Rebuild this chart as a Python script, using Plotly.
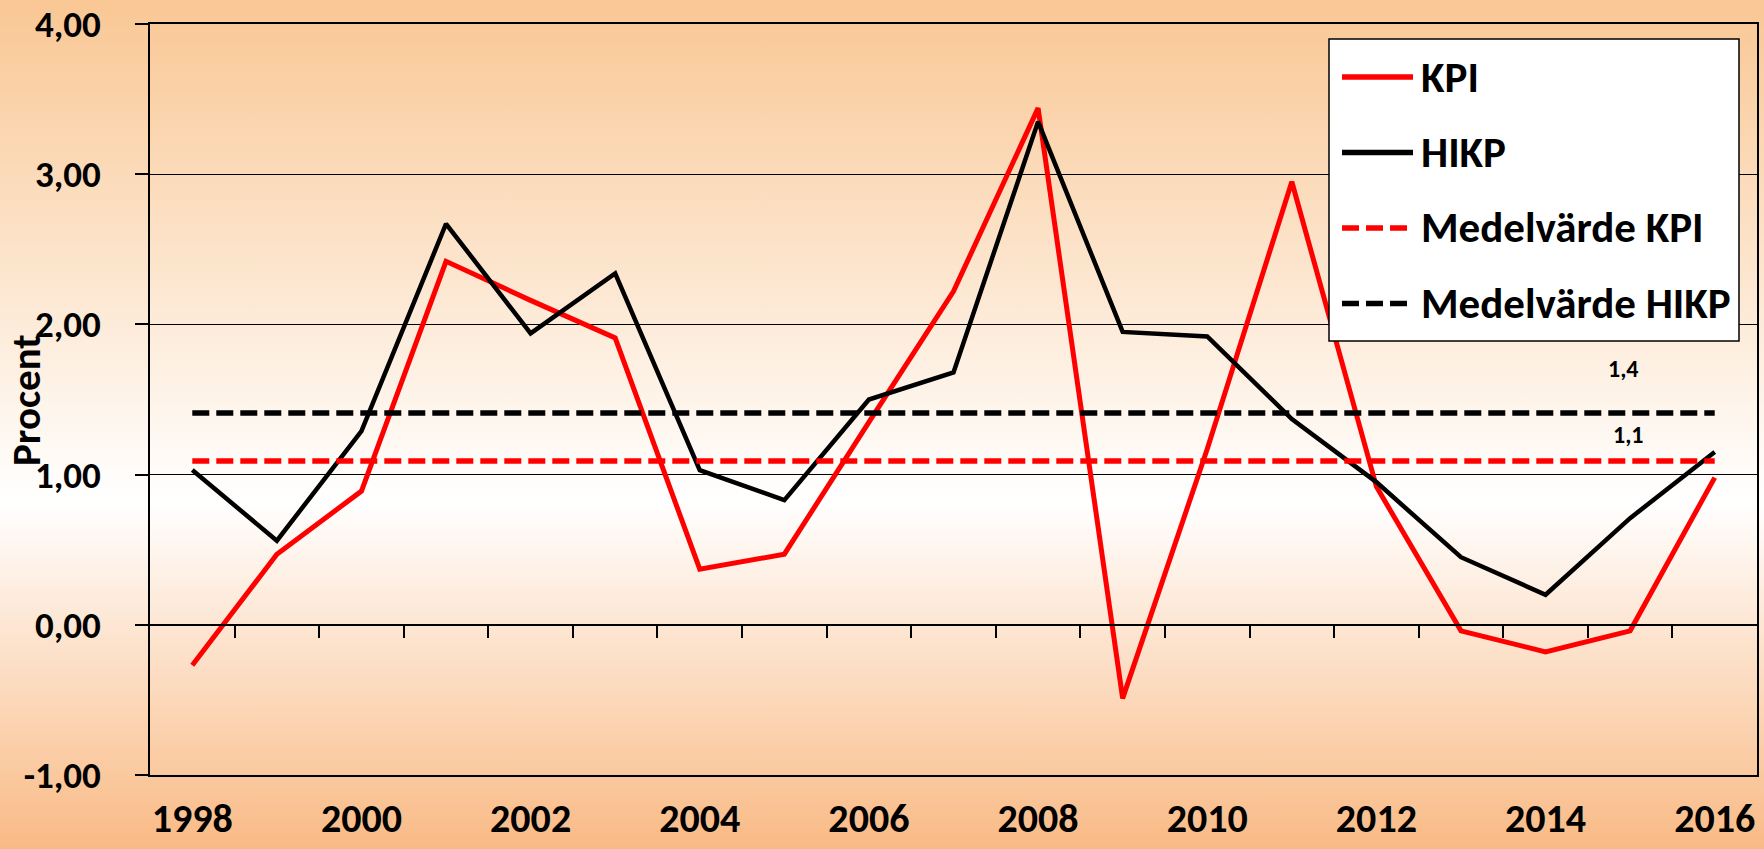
import base64
import plotly.graph_objects as go

years = list(range(1998, 2017))
kpi = [-0.27, 0.47, 0.89, 2.42, 2.16, 1.91, 0.37, 0.47, 1.35, 2.22,
       3.44, -0.49, 1.17, 2.95, 0.92, -0.04, -0.18, -0.04, 0.98]
hikp = [1.03, 0.56, 1.29, 2.67, 1.94, 2.34, 1.03, 0.83, 1.50, 1.68,
        3.35, 1.95, 1.92, 1.37, 0.95, 0.45, 0.20, 0.71, 1.15]
kpi_mean = 1.09
hikp_mean = 1.41

y_ticks = [-1, 0, 1, 2, 3, 4]
y_tick_labels = ["-1,00", "0,00", "1,00", "2,00", "3,00", "4,00"]
x_tick_years = [1998, 2000, 2002, 2004, 2006, 2008, 2010, 2012, 2014, 2016]

legend_names = ["KPI", "HIKP", "Medelvärde KPI", "Medelvärde HIKP"]
legend_colors = ["#FF0000", "#000000", "#FF0000", "#000000"]
legend_dash = ["solid", "solid", "17px,7px", "17px,7px"]

FONT = "Calibri, Carlito, Lato, sans-serif"
W, H = 1764, 849
L, R, T, B = 150, 7, 24, 74
PW, PH = W - L - R, H - T - B


def px_x(px):
    return (px - L) / PW


def px_y(py):
    return (H - B - py) / PH


def comma(v):
    return f"{v:.1f}".replace(".", ",")


fig = go.Figure()
fig.add_trace(go.Scatter(x=years, y=kpi, mode="lines", name="KPI",
                         line=dict(color="#FF0000", width=5)))
fig.add_trace(go.Scatter(x=years, y=hikp, mode="lines", name="HIKP",
                         line=dict(color="#000000", width=4.5)))
fig.add_trace(go.Scatter(x=years, y=[kpi_mean] * len(years), mode="lines",
                         name="Medelvärde KPI", xaxis="x2",
                         line=dict(color="#FF0000", width=5.5, dash="17px,7px")))
fig.add_trace(go.Scatter(x=years, y=[hikp_mean] * len(years), mode="lines",
                         name="Medelvärde HIKP", xaxis="x2",
                         line=dict(color="#000000", width=5.5, dash="17px,7px")))

# gradient background (orange -> white -> orange)
svg = ("<svg xmlns='http://www.w3.org/2000/svg' width='100' height='100' preserveAspectRatio='none'>"
       "<defs><linearGradient id='g' x1='0' y1='0' x2='0' y2='1'>"
       "<stop offset='0' stop-color='#F9C794'/>"
       "<stop offset='0.59' stop-color='#FFFFFF'/>"
       "<stop offset='1' stop-color='#F9BA85'/>"
       "</linearGradient></defs>"
       "<rect width='100' height='100' fill='url(#g)'/></svg>")
src = "data:image/svg+xml;base64," + base64.b64encode(svg.encode()).decode()
fig.add_layout_image(dict(source=src, xref="paper", yref="paper",
                          x=px_x(0), y=px_y(0), sizex=W / PW, sizey=H / PH,
                          xanchor="left", yanchor="top", sizing="stretch",
                          layer="below"))

# legend drawn by hand to get Excel-like long symbols
shapes = [dict(type="rect", xref="paper", yref="paper",
               x0=px_x(1329), x1=px_x(1739), y0=px_y(341), y1=px_y(39),
               fillcolor="white", line=dict(color="black", width=1.5))]
annotations = []
for i, name in enumerate(legend_names):
    ry = 77 + i * 75.5
    shapes.append(dict(type="line", xref="paper", yref="paper",
                       x0=px_x(1342), x1=px_x(1413), y0=px_y(ry), y1=px_y(ry),
                       line=dict(color=legend_colors[i], width=5.5, dash=legend_dash[i])))
    annotations.append(dict(xref="paper", yref="paper", x=px_x(1419), y=px_y(ry),
                            text=name, showarrow=False, xanchor="left", yanchor="middle",
                            font=dict(family=FONT, size=43, color="black", weight="bold")))

# data labels for the mean lines
annotations.append(dict(xref="x", yref="y", x=2015, y=hikp_mean, text=comma(hikp_mean),
                        showarrow=False, xshift=-7, yshift=45,
                        font=dict(family=FONT, size=24, color="black", weight="bold")))
annotations.append(dict(xref="x", yref="y", x=2015, y=kpi_mean, text=comma(kpi_mean),
                        showarrow=False, xshift=-2, yshift=27,
                        font=dict(family=FONT, size=24, color="black", weight="bold")))

# y axis title
annotations.append(dict(xref="paper", yref="paper", x=px_x(26), y=px_y(400),
                        text="Procent", showarrow=False, textangle=-90,
                        xanchor="center", yanchor="middle",
                        font=dict(family=FONT, size=41, color="black", weight="bold")))

fig.update_layout(
    width=W, height=H,
    margin=dict(l=L, r=R, t=T, b=B, autoexpand=False),
    paper_bgcolor="white",
    plot_bgcolor="rgba(0,0,0,0)",
    showlegend=False,
    shapes=shapes,
    annotations=annotations,
    xaxis=dict(range=[1997.5, 2016.5], showgrid=False, zeroline=False,
               showline=True, linecolor="black", linewidth=1.5, mirror=True,
               ticks="", tickvals=x_tick_years, ticktext=[str(y) for y in x_tick_years],
               ticklabelstandoff=7, ticklabeloverflow="allow",
               tickfont=dict(family=FONT, size=40, color="black", weight="bold")),
    xaxis2=dict(range=[1997.5, 2016.5], overlaying="x", anchor="free",
                position=px_y(625), side="bottom", showgrid=False, zeroline=False,
                showline=True, linecolor="black", linewidth=1.5,
                ticks="outside", ticklen=12, tickwidth=1.5, tickcolor="black",
                tickvals=[y + 0.5 for y in years[:-1]], showticklabels=False),
    yaxis=dict(range=[-1, 4], tickvals=y_ticks, ticktext=y_tick_labels,
               showgrid=True, gridcolor="black", gridwidth=1.2, zeroline=False,
               showline=True, linecolor="black", linewidth=1.5, mirror=True,
               ticks="outside", ticklen=13, tickwidth=1.5, tickcolor="black",
               ticklabelstandoff=27, ticklabeloverflow="allow",
               tickfont=dict(family=FONT, size=37, color="black", weight="bold")),
)

fig.write_html("out.html", config={"displayModeBar": False},
               post_script="document.body.style.margin='0';")
